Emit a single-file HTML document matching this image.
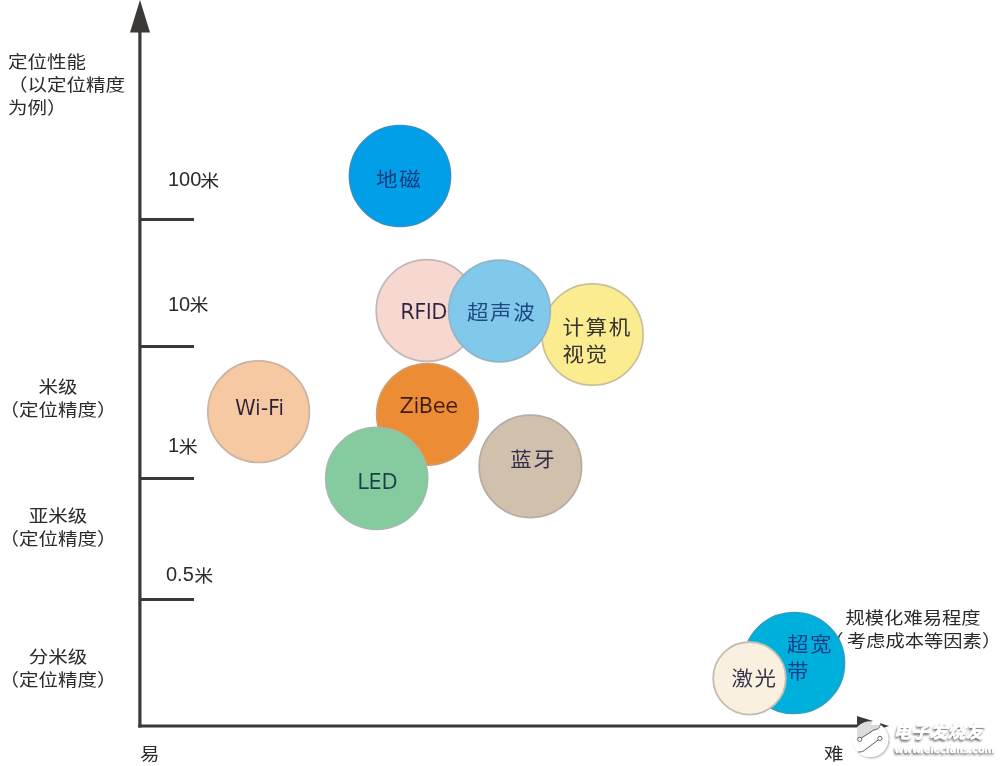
<!DOCTYPE html>
<html><head><meta charset="utf-8">
<style>
html,body{margin:0;padding:0;background:#fff;}
body{width:1000px;height:766px;overflow:hidden;position:relative;}
svg{position:absolute;left:0;top:0;will-change:transform;}
.cj{font-family:"Liberation Sans","Noto Sans CJK SC",sans-serif;}
.sq text{transform-box:fill-box;transform-origin:50% 78%;transform:scaleY(0.9);}
.sq2 text{transform-box:fill-box;transform-origin:50% 78%;transform:scaleY(0.93);}
.lt{font-family:"DejaVu Sans","Liberation Sans","Noto Sans CJK SC",sans-serif;}
</style></head>
<body>
<svg width="1000" height="766" viewBox="0 0 1000 766">
  <!-- axes -->
  <g fill="#3c3838" stroke="none">
    <rect x="138.3" y="30" width="3.2" height="697.5"/>
    <polygon points="140,0 130,32.5 150,32.5"/>
    <rect x="138.3" y="724.5" width="722" height="3"/>
    <polygon points="889,726 857,716 857,736"/>
    <rect x="140" y="218" width="54" height="3"/>
    <rect x="140" y="345" width="54" height="3"/>
    <rect x="140" y="477" width="54" height="3"/>
    <rect x="140" y="598" width="54" height="3"/>
  </g>

  <!-- right label (under circles) -->
  <g class="cj sq" fill="#2b2b2b" font-size="19.3">
    <text x="845.5" y="624">规模化难易程度</text>
    <text x="824.3" y="647">（</text>
    <text x="846.8" y="647">考虑成本等因素）</text>
  </g>

  <!-- circles -->
  <g stroke-width="1.7">
    <circle cx="400" cy="176" r="50.5" fill="#009FE8" stroke="#2a93c9"/>
    <circle cx="592.5" cy="334.5" r="50.6" fill="#FBED8F" stroke="#c9c09a"/>
    <circle cx="427" cy="310.5" r="50.8" fill="#F7D8D0" stroke="#c3b6b3"/>
    <circle cx="499.5" cy="311" r="50.8" fill="#80C9EB" stroke="#93b3c6"/>
    <circle cx="258.6" cy="411.7" r="50.8" fill="#F7C9A3" stroke="#c9b4a4"/>
    <circle cx="427.5" cy="414.3" r="50.8" fill="#EC8D35" stroke="#d39a6c"/>
    <circle cx="376.7" cy="478.4" r="51" fill="#86CBA0" stroke="#9dbcaa"/>
    <circle cx="530.4" cy="466.4" r="51.2" fill="#D1C0AB" stroke="#b5aca2"/>
    <circle cx="794" cy="663" r="50.5" fill="#00B0DC" stroke="#2a9fc4"/>
    <circle cx="749.5" cy="678.3" r="36.3" fill="#FAF0E0" stroke="#c4bdb3" stroke-width="1.8"/>
  </g>

  <!-- left labels -->
  <g class="cj sq" fill="#2b2b2b" font-size="19.5">
    <text x="8" y="68.3">定位性能</text>
    <text x="8" y="91.5">（以定位精度</text>
    <text x="8" y="114.5">为例）</text>
    <text x="58" y="393" text-anchor="middle">米级</text>
    <text x="58" y="416" text-anchor="middle">（定位精度）</text>
    <text x="58" y="522" text-anchor="middle">亚米级</text>
    <text x="58" y="545" text-anchor="middle">（定位精度）</text>
    <text x="58" y="663" text-anchor="middle">分米级</text>
    <text x="58" y="686" text-anchor="middle">（定位精度）</text>
    <text x="140" y="760">易</text>
    <text x="824" y="760">难</text>
  </g>
  <g fill="#2b2b2b" font-size="20" font-family="'Liberation Sans', sans-serif">
    <text x="168" y="186.3">100</text>
    <text x="168" y="310.7">10</text>
    <text x="168" y="452.3">1</text>
    <text x="166" y="581">0.5</text>
  </g>
  <g class="cj sq" fill="#2b2b2b" font-size="19">
    <text x="200.3" y="187.2">米</text>
    <text x="189.5" y="311.3">米</text>
    <text x="178.8" y="453.2">米</text>
    <text x="194.3" y="581.8">米</text>
  </g>

  <!-- circle labels -->
  <g class="cj sq2" font-size="21.5" letter-spacing="1.6" font-weight="400">
    <text x="376.1" y="187" fill="#123a7c" font-weight="400">地磁</text>
    <text x="467" y="320" fill="#1f4880">超声波</text>
    <text x="510.3" y="467.5" fill="#352c4e">蓝牙</text>
    <text x="731.5" y="685.8" fill="#38364e" font-weight="400">激光</text>
    <text x="562.5" y="335" fill="#333" font-weight="400">计算机</text>
    <text x="562.5" y="362" fill="#333" font-weight="400">视觉</text>
    <text x="787" y="651.8" fill="#163d84" font-weight="400">超宽</text>
    <text x="787" y="678.8" fill="#163d84" font-weight="400">带</text>
  </g>
  <g class="lt" font-size="21" text-anchor="middle">
    <text x="423.6" y="319" fill="#2a2340" letter-spacing="-0.6" stroke="#F7D8D0" stroke-width="0.15">RFID</text>
    <text x="259.4" y="414.5" fill="#2b2038" letter-spacing="-0.3" stroke="#F7C9A3" stroke-width="0.15">Wi-Fi</text>
    <text x="428.6" y="413" fill="#3d1a16" letter-spacing="-0.5" stroke="#EC8D35" stroke-width="0.15">ZiBee</text>
    <text x="377.3" y="489" fill="#1c4048" letter-spacing="-0.3" stroke="#86CBA0" stroke-width="0.15">LED</text>
  </g>

  <!-- watermark -->
  <defs>
    <filter id="sh" x="-20%" y="-20%" width="140%" height="140%">
      <feGaussianBlur in="SourceAlpha" stdDeviation="0.8"/>
      <feOffset dx="-1" dy="1.5" result="o"/>
      <feComponentTransfer><feFuncA type="linear" slope="0.6"/></feComponentTransfer>
      <feMerge><feMergeNode/><feMergeNode in="SourceGraphic"/></feMerge>
    </filter>
    <filter id="csh" x="-30%" y="-30%" width="160%" height="160%">
      <feGaussianBlur in="SourceAlpha" stdDeviation="0.8"/>
      <feOffset dx="0.6" dy="1.2" result="o"/>
      <feComponentTransfer><feFuncA type="linear" slope="0.35"/></feComponentTransfer>
      <feMerge><feMergeNode/><feMergeNode in="SourceGraphic"/></feMerge>
    </filter>
  </defs>
  <g>
    <clipPath id="cc"><circle cx="870.4" cy="739.3" r="17.8"/></clipPath>
    <circle cx="870.4" cy="739.3" r="17.8" fill="#fff" filter="url(#csh)"/>
    <polygon points="857,716 873,721 882,723.6 880.6,723.8 878.3,728.4 872.5,730.8 861.5,738 857,741" fill="#dcdcdc" clip-path="url(#cc)"/>
    <path d="M871,725 C873,719 876,714.5 878.5,713 C880.5,716 881,721 880.2,725 Z" fill="#fff"/>
        <g fill="none" stroke="#4a4a4a" stroke-width="0.9" stroke-linecap="round">
      <path d="M861.5,738 L872.5,730.8 C874.5,729.4 876.5,729.8 878.3,728.4 C879.8,727.2 880.2,725.5 880.6,723.8"/>
      <path d="M878.2,740 L864.5,750.2 C862.8,751.6 860.5,752.3 858.5,752"/>
    </g>
    <circle cx="859.7" cy="739.3" r="2.1" fill="#fff" stroke="#555" stroke-width="0.9"/>
    <circle cx="879.9" cy="738.4" r="2.1" fill="#fff" stroke="#555" stroke-width="0.9"/>
  </g>
  <g filter="url(#sh)" fill="#fff">
    <text x="893.5" y="737.5" class="cj" font-size="17.8" font-style="italic" font-weight="900" letter-spacing="0.2">电子发烧友</text>
    <text x="894.5" y="753" class="lt" font-size="9.6" font-weight="bold" letter-spacing="-0.05">www.elecfans.com</text>
  </g>
</svg>
</body></html>
